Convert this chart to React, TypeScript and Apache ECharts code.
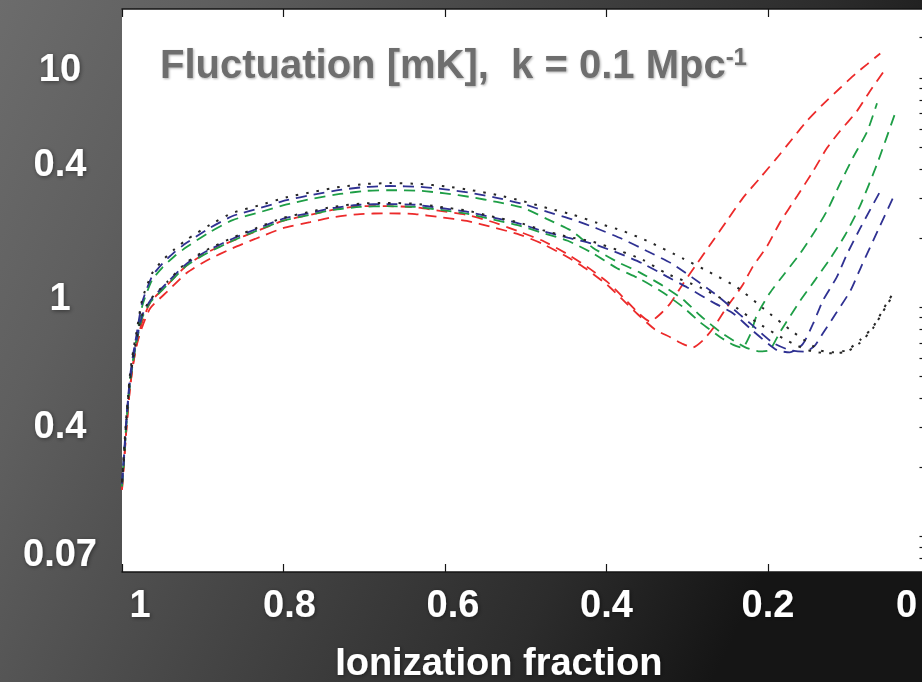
import React, { useEffect, useRef } from 'react';
import * as echarts from 'echarts';

// ---- x (ionization fraction) / y (fluctuation, mK) samples per curve ----

const upperBlueX = [1.0, 0.9975, 0.995, 0.9925, 0.99, 0.986, 0.982, 0.975, 0.963, 0.95, 0.935, 0.92, 0.891, 0.863, 0.829, 0.796, 0.763, 0.73, 0.697, 0.668, 0.631, 0.6, 0.567, 0.536, 0.503, 0.472, 0.441, 0.411, 0.381, 0.35, 0.319, 0.294, 0.268, 0.247, 0.222, 0.194, 0.173, 0.154, 0.142, 0.132, 0.115, 0.098, 0.084, 0.064, 0.043];
const upperBlueY = [0.17, 0.23, 0.31, 0.4, 0.5, 0.63, 0.76, 1.05, 1.36, 1.55, 1.74, 1.91, 2.22, 2.5, 2.71, 2.93, 3.1, 3.25, 3.35, 3.38, 3.35, 3.27, 3.15, 3.0, 2.82, 2.6, 2.41, 2.2, 1.99, 1.76, 1.55, 1.35, 1.16, 1.01, 0.85, 0.7, 0.65, 0.64, 0.68, 0.77, 0.95, 1.18, 1.52, 2.16, 3.12];

const upperBlackX = [1.0, 0.9975, 0.995, 0.9925, 0.99, 0.986, 0.982, 0.975, 0.963, 0.95, 0.935, 0.92, 0.891, 0.863, 0.829, 0.796, 0.763, 0.73, 0.697, 0.668, 0.631, 0.6, 0.567, 0.536, 0.503, 0.472, 0.441, 0.411, 0.381, 0.35, 0.305, 0.272, 0.238, 0.206, 0.169, 0.136, 0.12, 0.102, 0.086, 0.07, 0.053, 0.045];
const upperBlackY = [0.175, 0.237, 0.32, 0.41, 0.515, 0.65, 0.78, 1.08, 1.4, 1.6, 1.79, 1.97, 2.29, 2.58, 2.79, 3.02, 3.19, 3.35, 3.45, 3.48, 3.45, 3.37, 3.24, 3.09, 2.9, 2.7, 2.53, 2.33, 2.16, 1.95, 1.63, 1.42, 1.22, 0.99, 0.78, 0.65, 0.636, 0.65, 0.72, 0.82, 1.04, 1.15];

const upperGreenX = [1.0, 0.9975, 0.995, 0.9925, 0.99, 0.986, 0.982, 0.975, 0.963, 0.95, 0.935, 0.92, 0.891, 0.863, 0.829, 0.796, 0.763, 0.73, 0.697, 0.668, 0.631, 0.6, 0.567, 0.536, 0.503, 0.474, 0.443, 0.417, 0.387, 0.359, 0.33, 0.305, 0.284, 0.259, 0.228, 0.21, 0.198, 0.185, 0.16, 0.142, 0.123, 0.105, 0.086, 0.065, 0.043];
const upperGreenY = [0.165, 0.22, 0.3, 0.385, 0.48, 0.6, 0.73, 1.01, 1.31, 1.49, 1.67, 1.83, 2.13, 2.4, 2.6, 2.81, 2.98, 3.12, 3.22, 3.24, 3.22, 3.14, 3.02, 2.88, 2.71, 2.43, 2.15, 1.82, 1.58, 1.42, 1.24, 1.08, 0.92, 0.78, 0.668, 0.642, 0.65, 0.78, 1.07, 1.31, 1.63, 2.05, 2.77, 4.21, 6.95];

const lowerBlueX = [1.0, 0.9975, 0.995, 0.9925, 0.99, 0.986, 0.982, 0.975, 0.965, 0.944, 0.92, 0.895, 0.863, 0.833, 0.801, 0.767, 0.739, 0.705, 0.672, 0.637, 0.606, 0.573, 0.542, 0.51, 0.479, 0.448, 0.417, 0.383, 0.355, 0.325, 0.3, 0.268, 0.243, 0.219, 0.189, 0.173, 0.157, 0.144, 0.132, 0.115, 0.102, 0.085, 0.061];
const lowerBlueY = [0.17, 0.22, 0.3, 0.39, 0.48, 0.6, 0.72, 0.92, 1.07, 1.28, 1.55, 1.76, 1.99, 2.2, 2.43, 2.58, 2.71, 2.8, 2.82, 2.8, 2.71, 2.61, 2.47, 2.33, 2.15, 2.01, 1.89, 1.71, 1.55, 1.36, 1.22, 1.05, 0.94, 0.79, 0.65, 0.636, 0.69, 0.85, 1.07, 1.35, 1.71, 2.24, 3.21];

const lowerBlackX = [1.0, 0.9975, 0.995, 0.9925, 0.99, 0.986, 0.982, 0.975, 0.965, 0.944, 0.92, 0.895, 0.863, 0.833, 0.801, 0.767, 0.739, 0.705, 0.672, 0.637, 0.606, 0.573, 0.542, 0.51, 0.479, 0.448, 0.417, 0.383, 0.355, 0.325, 0.284, 0.247, 0.214, 0.181, 0.164, 0.144, 0.12, 0.102, 0.086, 0.07, 0.053, 0.045];
const lowerBlackY = [0.172, 0.222, 0.303, 0.394, 0.485, 0.606, 0.727, 0.93, 1.08, 1.29, 1.57, 1.78, 2.01, 2.22, 2.45, 2.61, 2.74, 2.83, 2.85, 2.83, 2.74, 2.64, 2.49, 2.35, 2.17, 2.03, 1.93, 1.76, 1.61, 1.4, 1.22, 1.04, 0.86, 0.73, 0.68, 0.64, 0.63, 0.642, 0.7, 0.81, 1.02, 1.13];

const lowerGreenX = [1.0, 0.9975, 0.995, 0.9925, 0.99, 0.986, 0.982, 0.975, 0.965, 0.944, 0.92, 0.895, 0.863, 0.833, 0.801, 0.767, 0.739, 0.705, 0.672, 0.637, 0.606, 0.573, 0.542, 0.51, 0.479, 0.448, 0.417, 0.387, 0.359, 0.33, 0.305, 0.284, 0.259, 0.243, 0.232, 0.222, 0.214, 0.198, 0.181, 0.16, 0.144, 0.127, 0.111, 0.095, 0.077, 0.065];
const lowerGreenY = [0.167, 0.216, 0.294, 0.382, 0.47, 0.588, 0.706, 0.9, 1.05, 1.25, 1.52, 1.72, 1.95, 2.16, 2.38, 2.53, 2.66, 2.74, 2.76, 2.74, 2.66, 2.56, 2.42, 2.28, 2.11, 1.95, 1.72, 1.48, 1.33, 1.16, 1.0, 0.86, 0.74, 0.685, 0.665, 0.76, 0.92, 1.15, 1.38, 1.72, 2.09, 2.63, 3.45, 4.48, 5.86, 7.76];

const redEarlyX = [1.0, 0.9975, 0.995, 0.9925, 0.99, 0.986, 0.981, 0.975, 0.965, 0.944, 0.92, 0.895, 0.863, 0.833, 0.801, 0.767, 0.739, 0.705, 0.672, 0.637, 0.606, 0.573, 0.542, 0.507, 0.479, 0.449, 0.424, 0.399, 0.38, 0.361, 0.346, 0.334, 0.321, 0.305, 0.288, 0.269, 0.251, 0.231, 0.21, 0.189, 0.17, 0.152, 0.132, 0.111, 0.092, 0.077, 0.061];
const redEarlyY = [0.16, 0.21, 0.28, 0.36, 0.45, 0.57, 0.72, 0.86, 1.05, 1.25, 1.52, 1.73, 1.95, 2.15, 2.38, 2.53, 2.66, 2.76, 2.76, 2.73, 2.63, 2.53, 2.36, 2.13, 1.95, 1.71, 1.5, 1.29, 1.11, 0.947, 0.866, 0.93, 1.04, 1.27, 1.55, 1.93, 2.38, 3.0, 3.66, 4.48, 5.42, 6.49, 7.68, 9.02, 10.4, 11.5, 12.8];

const redLateX = [1.0, 0.9975, 0.995, 0.9925, 0.99, 0.986, 0.981, 0.975, 0.965, 0.944, 0.92, 0.895, 0.863, 0.833, 0.801, 0.767, 0.739, 0.705, 0.672, 0.637, 0.606, 0.573, 0.542, 0.507, 0.479, 0.449, 0.424, 0.399, 0.38, 0.361, 0.34, 0.321, 0.305, 0.293, 0.28, 0.268, 0.251, 0.232, 0.219, 0.201, 0.185, 0.164, 0.144, 0.127, 0.111, 0.09, 0.074, 0.055];
const redLateY = [0.16, 0.21, 0.28, 0.36, 0.45, 0.57, 0.7, 0.82, 0.99, 1.17, 1.41, 1.6, 1.81, 2.0, 2.21, 2.35, 2.47, 2.55, 2.57, 2.55, 2.47, 2.38, 2.24, 2.07, 1.89, 1.66, 1.46, 1.25, 1.08, 0.93, 0.8, 0.74, 0.69, 0.668, 0.72, 0.81, 1.0, 1.24, 1.5, 1.85, 2.35, 3.05, 3.93, 4.95, 5.86, 7.16, 8.74, 10.9];

// ---- axes ----
const xTickValues = [0, 0.2, 0.4, 0.6, 0.8, 1];
const yMinorTicks = [0.08, 0.09, 0.1, 0.2, 0.3, 0.4, 0.5, 0.6, 0.7, 0.8, 0.9, 1, 2, 3, 4, 5, 6, 7, 8, 9, 10, 15];
const yLabelValues = [10, 4, 1, 0.3, 0.08];
const yLabelTexts = ['10', '0.4', '1', '0.4', '0.07'];

const TITLE_MAIN = 'Fluctuation [mK],  k = 0.1 Mpc';
const TITLE_SUP = '-1';
const X_NAME = 'Ionization fraction';

const FONT = "'Liberation Sans', Arial, Helvetica, sans-serif";
const RED = '#ec2a2a';
const GREEN = '#1e9e46';
const BLUE = '#2f3192';
const BLACK = '#262626';

const zip = (xs: number[], ys: number[]) => xs.map((x, i) => [x, ys[i]]);

const curves = [
  { name: 'red-early', xs: redEarlyX, ys: redEarlyY, color: RED, dash: [11, 7], width: 1.8 },
  { name: 'red-late', xs: redLateX, ys: redLateY, color: RED, dash: [11, 7], width: 1.8 },
  { name: 'green-lower', xs: lowerGreenX, ys: lowerGreenY, color: GREEN, dash: [11, 7], width: 1.8 },
  { name: 'green-upper', xs: upperGreenX, ys: upperGreenY, color: GREEN, dash: [11, 7], width: 1.8 },
  { name: 'blue-lower', xs: lowerBlueX, ys: lowerBlueY, color: BLUE, dash: [11, 7], width: 1.8 },
  { name: 'blue-upper', xs: upperBlueX, ys: upperBlueY, color: BLUE, dash: [11, 7], width: 1.8 },
  { name: 'black-lower', xs: lowerBlackX, ys: lowerBlackY, color: BLACK, dash: [2.5, 8], width: 2 },
  { name: 'black-upper', xs: upperBlackX, ys: upperBlackY, color: BLACK, dash: [2.5, 8], width: 2 },
];

const whiteText = {
  color: '#ffffff',
  fontFamily: FONT,
  fontWeight: 'bold' as const,
  fontSize: 38,
  textShadowColor: 'rgba(0,0,0,0.45)',
  textShadowBlur: 4,
  textShadowOffsetX: 1,
  textShadowOffsetY: 1,
};

// horizontal nudges of the x tick labels (rich padding left/right)
const xLabelRich: Record<string, any> = {
  l36: { ...whiteText, padding: [0, 0, 0, 36] },
  l12: { ...whiteText, padding: [0, 0, 0, 12] },
  l16: { ...whiteText, padding: [0, 0, 0, 16] },
  c0: { ...whiteText },
  r46: { ...whiteText, padding: [0, 46, 0, 0] },
};
const xLabelKey = (v: number) => {
  if (Math.abs(v - 1) < 1e-6) return 'l36';
  if (Math.abs(v - 0.8) < 1e-6) return 'l12';
  if (Math.abs(v - 0.6) < 1e-6) return 'l16';
  if (Math.abs(v) < 1e-6) return 'r46';
  return 'c0';
};

// vertical lift of each y tick label (rich bottom padding)
const yLift = [20, 12, 20, 4, 12];
const yLabelRich: Record<string, any> = {};
yLift.forEach((p, i) => {
  yLabelRich['y' + i] = { ...whiteText, padding: [0, 0, p, 0] };
});

const tickLine = { color: '#151515', width: 1.2 };
const frameLine = { color: '#151515', width: 1.5 };

export default function App() {
  const ref = useRef<HTMLDivElement>(null);

  useEffect(() => {
    if (!ref.current) return;
    const chart = echarts.init(ref.current, null, { renderer: 'svg' });

    const option: any = {
      animation: false,
      backgroundColor: new echarts.graphic.LinearGradient(0, 0, 1, 0.35, [
        { offset: 0, color: '#6c6c6c' },
        { offset: 0.2, color: '#5f5f5f' },
        { offset: 0.5, color: '#454545' },
        { offset: 0.8, color: '#2c2c2c' },
        { offset: 1, color: '#151515' },
      ]),
      // the plot box runs a little past the right edge of the canvas
      grid: {
        left: 122,
        top: 9,
        width: 807.5,
        height: 563,
        outerBoundsMode: 'none',
        containLabel: false,
        show: true,
        backgroundColor: '#ffffff',
        borderWidth: 0,
      },
      graphic: [
        {
          type: 'text',
          left: 160,
          top: 44,
          silent: true,
          style: {
            text: `{m|${TITLE_MAIN}}{s|${TITLE_SUP}}`,
            rich: {
              m: {
                fontSize: 40,
                fontWeight: 'bold',
                fontFamily: FONT,
                fill: '#6e6e6e',
                textShadowColor: 'rgba(0,0,0,0.3)',
                textShadowBlur: 2,
                textShadowOffsetX: 1,
                textShadowOffsetY: 1,
              },
              s: {
                fontSize: 24,
                fontWeight: 'bold',
                fontFamily: FONT,
                fill: '#6e6e6e',
                verticalAlign: 'top',
                textShadowColor: 'rgba(0,0,0,0.3)',
                textShadowBlur: 2,
                textShadowOffsetX: 1,
                textShadowOffsetY: 1,
              },
            },
          },
        },
      ],
      xAxis: [
        {
          type: 'value',
          min: 0,
          max: 1,
          interval: 0.2,
          inverse: true,
          position: 'bottom',
          axisLine: { show: true, lineStyle: frameLine },
          axisTick: { show: true, inside: true, length: 8, lineStyle: tickLine, customValues: xTickValues },
          splitLine: { show: false },
          axisLabel: {
            show: true,
            margin: 13,
            showMinLabel: true,
            showMaxLabel: true,
            formatter: (v: number) => {
              const txt = Math.abs(v) < 1e-6 ? '0' : Math.abs(v - 1) < 1e-6 ? '1' : v.toFixed(1);
              return `{${xLabelKey(v)}|${txt}}`;
            },
            rich: xLabelRich,
            ...whiteText,
          },
          name: X_NAME,
          nameLocation: 'middle',
          nameGap: 71,
          nameTextStyle: { ...whiteText, padding: [0, 54, 0, 0] },
        },
        {
          type: 'value',
          min: 0,
          max: 1,
          interval: 0.2,
          inverse: true,
          position: 'top',
          axisLine: { show: true, lineStyle: frameLine },
          axisTick: { show: true, inside: true, length: 8, lineStyle: tickLine },
          axisLabel: { show: false },
          splitLine: { show: false },
        },
      ],
      yAxis: [
        {
          type: 'log',
          logBase: 10,
          min: 0.07,
          max: 20,
          position: 'left',
          axisLine: { show: true, lineStyle: frameLine },
          axisTick: { show: true, inside: true, length: 9, lineStyle: tickLine, customValues: yMinorTicks },
          splitLine: { show: false },
          minorTick: { show: false },
          axisLabel: {
            show: true,
            customValues: yLabelValues,
            margin: 62,
            align: 'center',
            formatter: (v: number) => {
              let idx = 0;
              let best = Infinity;
              yLabelValues.forEach((lv, i) => {
                const d = Math.abs(Math.log10(v) - Math.log10(lv));
                if (d < best) { best = d; idx = i; }
              });
              return `{y${idx}|${yLabelTexts[idx]}}`;
            },
            rich: yLabelRich,
            ...whiteText,
          },
        },
        {
          type: 'log',
          logBase: 10,
          min: 0.07,
          max: 20,
          position: 'right',
          axisLine: { show: true, lineStyle: frameLine },
          axisTick: { show: true, inside: true, length: 10, lineStyle: tickLine, customValues: yMinorTicks },
          axisLabel: { show: false },
          splitLine: { show: false },
        },
      ],
      series: curves.map((c, i) => ({
        name: c.name,
        type: 'line',
        xAxisIndex: 0,
        yAxisIndex: 0,
        data: zip(c.xs, c.ys),
        showSymbol: false,
        symbol: 'none',
        smooth: 0.2,
        silent: true,
        z: 2 + i,
        lineStyle: { color: c.color, width: c.width, type: c.dash, cap: 'butt' },
      })),
    };

    chart.setOption(option);
    return () => chart.dispose();
  }, []);

  return (
    <div
      ref={ref}
      style={{ position: 'absolute', left: 0, top: 0, width: 922, height: 682 }}
    />
  );
}
